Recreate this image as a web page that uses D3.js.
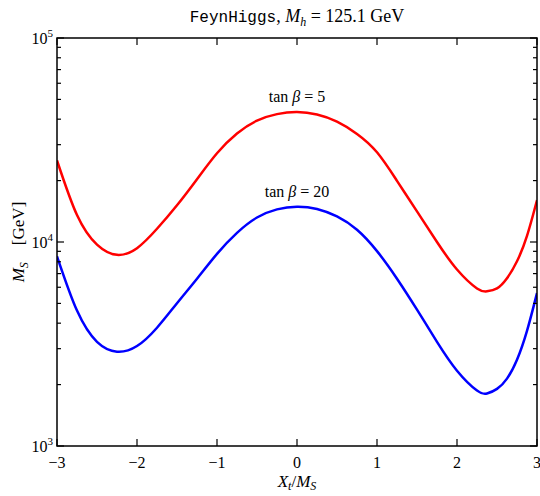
<!DOCTYPE html>
<html>
<head>
<meta charset="utf-8">
<script src="https://cdn.jsdelivr.net/npm/d3@7"></script>
<style>
  body { margin: 0; background: #fff; }
  text { font-family: "Liberation Serif", "DejaVu Serif", serif; fill: #000; }
</style>
</head>
<body>
<svg id="chart" width="540" height="496"></svg>
<script>
// Stop mixing parameter X_t / M_S
const xtOverMs = [-3, -2.75, -2.5, -2.25, -2, -1.75, -1.5, -1.25, -1, -0.75, -0.5, -0.25,
                  0, 0.25, 0.5, 0.75, 1, 1.25, 1.5, 1.75, 2, 2.25, 2.375, 2.5, 2.625, 2.75, 2.875, 3];
// SUSY scale M_S [GeV] giving M_h = 125.1 GeV
const msTanb5  = [25100, 13550, 9700, 8650, 9330, 11610, 15140, 20320, 27230, 34040, 39360, 42360,
                  43350, 42170, 38900, 33880, 27540, 19950, 14130, 10000, 7330, 5920, 5730, 5920,
                  6640, 8040, 10720, 16030];
const msTanb20 = [8510, 4610, 3240, 2900, 3090, 3800, 5010, 6610, 8750, 11090, 13180, 14450,
                  14890, 14520, 13340, 11480, 9020, 6610, 4660, 3240, 2340, 1870, 1810, 1905,
                  2140, 2650, 3670, 5620];
const seriesLabels = ["5", "20"];
const seriesColors = ["#ff0000", "#0000ff"];
const xTickValues = [-3, -2, -1, 0, 1, 2, 3];
const yDecadeExponents = [3, 4, 5];

const svg = d3.select("#chart");
const margin = { left: 57, right: 3, top: 38, bottom: 50 };
const W = 540, H = 496;
const x0 = margin.left, x1 = W - margin.right, y0 = margin.top, y1 = H - margin.bottom;

const x = d3.scaleLinear().domain([-3, 3]).range([x0, x1]);
const y = d3.scaleLog().domain([1e3, 1e5]).range([y1, y0]);

// curves
const line = d3.line().x(d => x(d[0])).y(d => y(d[1])).curve(d3.curveNatural);
const series = [msTanb5, msTanb20];
const plot = svg.append("g");
plot.append("clipPath").attr("id", "clip").append("rect")
  .attr("x", x0).attr("y", y0).attr("width", x1 - x0).attr("height", y1 - y0);
series.forEach((vals, i) => {
  plot.append("path")
    .attr("clip-path", "url(#clip)")
    .attr("d", line(xtOverMs.map((v, k) => [v, vals[k]])))
    .attr("fill", "none")
    .attr("stroke", seriesColors[i])
    .attr("stroke-width", 2.5)
    .attr("stroke-linejoin", "round");
});

// inward ticks on all four sides
const tickG = svg.append("g").attr("stroke", "#000").attr("stroke-width", 1.2);
xTickValues.forEach(v => {
  tickG.append("line").attr("x1", x(v)).attr("x2", x(v)).attr("y1", y1).attr("y2", y1 - 7);
  tickG.append("line").attr("x1", x(v)).attr("x2", x(v)).attr("y1", y0).attr("y2", y0 + 7);
});
const yMajor = yDecadeExponents.map(e => Math.pow(10, e));
const yMinor = [];
for (let e = 3; e < 5; e++) for (let m = 2; m <= 9; m++) yMinor.push(m * Math.pow(10, e));
yMajor.forEach(v => {
  tickG.append("line").attr("x1", x0).attr("x2", x0 + 7).attr("y1", y(v)).attr("y2", y(v));
  tickG.append("line").attr("x1", x1).attr("x2", x1 - 7).attr("y1", y(v)).attr("y2", y(v));
});
yMinor.forEach(v => {
  tickG.append("line").attr("x1", x0).attr("x2", x0 + 4).attr("y1", y(v)).attr("y2", y(v));
  tickG.append("line").attr("x1", x1).attr("x2", x1 - 4).attr("y1", y(v)).attr("y2", y(v));
});

// frame
svg.append("rect").attr("x", x0).attr("y", y0).attr("width", x1 - x0).attr("height", y1 - y0)
  .attr("fill", "none").attr("stroke", "#000").attr("stroke-width", 1.5);

// x tick labels
xTickValues.forEach(v => {
  svg.append("text").attr("x", x(v)).attr("y", y1 + 22)
    .attr("text-anchor", "middle").attr("font-size", 16)
    .text(v < 0 ? "\u2212" + Math.abs(v) : String(v));
});
// y tick labels 10^n
yDecadeExponents.forEach(e => {
  const t = svg.append("text").attr("x", x0 - 4).attr("y", y(Math.pow(10, e)) + 6)
    .attr("text-anchor", "end").attr("font-size", 16);
  t.append("tspan").text("10");
  t.append("tspan").attr("font-size", 11).attr("dy", -7).text(String(e));
});

// axis titles
const xl = svg.append("text").attr("x", (x0 + x1) / 2).attr("y", 487)
  .attr("text-anchor", "middle").attr("font-size", 17);
xl.append("tspan").attr("font-style", "italic").text("X");
xl.append("tspan").attr("font-style", "italic").attr("font-size", 12).attr("dy", 3).text("t");
xl.append("tspan").attr("dy", -3).text("/");
xl.append("tspan").attr("font-style", "italic").text("M");
xl.append("tspan").attr("font-style", "italic").attr("font-size", 12).attr("dy", 3).text("S");

const yl = svg.append("text")
  .attr("transform", `translate(24,${(y0 + y1) / 2}) rotate(-90)`)
  .attr("text-anchor", "middle").attr("font-size", 17);
yl.append("tspan").attr("font-style", "italic").text("M");
yl.append("tspan").attr("font-style", "italic").attr("font-size", 12).attr("dy", 4).text("S");
yl.append("tspan").attr("dy", -4).attr("xml:space", "preserve").text("\u2003[GeV]");

// title
const title = svg.append("text").attr("x", 297).attr("y", 22)
  .attr("text-anchor", "middle").attr("font-size", 18);
title.append("tspan").attr("font-family", "'Liberation Mono', 'DejaVu Sans Mono', monospace")
  .attr("font-size", 16).text("FeynHiggs");
title.append("tspan").text(", ");
title.append("tspan").attr("font-style", "italic").text("M");
title.append("tspan").attr("font-style", "italic").attr("font-size", 12).attr("dy", 4).text("h");
title.append("tspan").attr("dy", -4).text(" = 125.1 GeV");

// curve annotations
const annY = [msTanb5, msTanb20].map(s => y(d3.max(s)) - 10);
seriesLabels.forEach((lab, i) => {
  const t = svg.append("text").attr("x", x(0)).attr("y", annY[i])
    .attr("text-anchor", "middle").attr("font-size", 16);
  t.append("tspan").text("tan ");
  t.append("tspan").attr("font-style", "italic").text("\u03b2");
  t.append("tspan").text(" = " + lab);
});
</script>
</body>
</html>
